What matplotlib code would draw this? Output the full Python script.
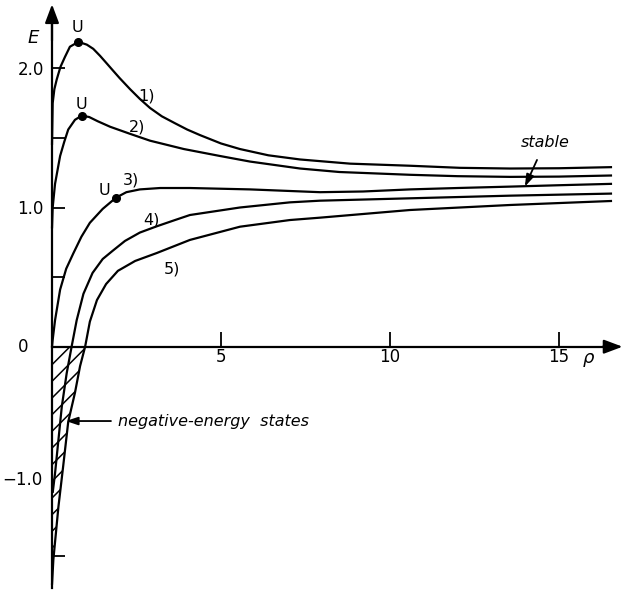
import numpy as np
import matplotlib
matplotlib.use("Agg")
import matplotlib.pyplot as plt

# curves: rho (x) and E (y)
rho1 = [0.0, 0.02, 0.07, 0.14, 0.25, 0.38, 0.53, 0.78, 1.03, 1.22, 1.42, 1.62, 1.80, 2.0,
        2.31, 2.6, 2.9, 3.25, 3.64, 4.0, 4.38, 5.0, 5.56, 6.4, 7.34, 8.82, 10.59, 12.07,
        13.55, 15.0, 16.57]
E1 = [1.45, 1.75, 1.85, 1.92, 2.01, 2.08, 2.155, 2.19, 2.17, 2.14, 2.09, 2.035, 1.985, 1.93,
      1.85, 1.78, 1.715, 1.655, 1.605, 1.56, 1.52, 1.46, 1.42, 1.375, 1.345, 1.315, 1.30,
      1.285, 1.28, 1.282, 1.29]

rho2 = [0.0, 0.02, 0.09, 0.24, 0.36, 0.48, 0.68, 0.88, 1.1, 1.35, 1.72, 2.3, 2.9, 3.9,
        4.97, 5.86, 7.34, 8.5, 10.59, 12.0, 13.55, 15.0, 16.57]
E2 = [0.85, 1.0, 1.17, 1.37, 1.47, 1.56, 1.63, 1.66, 1.65, 1.62, 1.58, 1.53, 1.48, 1.42,
      1.37, 1.33, 1.28, 1.255, 1.235, 1.225, 1.22, 1.222, 1.23]

rho3 = [0.0, 0.02, 0.09, 0.24, 0.42, 0.63, 0.87, 1.12, 1.5, 1.89, 2.2, 2.6, 3.2, 4.08,
        5.86, 7.93, 9.2, 10.59, 12.0, 13.55, 15.0, 16.57]
E3 = [0.0, 0.05, 0.19, 0.41, 0.56, 0.67, 0.79, 0.89, 0.99, 1.07, 1.11, 1.13, 1.14, 1.14,
      1.13, 1.11, 1.115, 1.13, 1.14, 1.15, 1.16, 1.17]

rho4 = [0.02, 0.09, 0.19, 0.29, 0.435, 0.58, 0.73, 0.93, 1.2, 1.5, 1.8, 2.16, 2.6, 3.1,
        3.64, 4.08, 5.56, 7.04, 7.93, 10.59, 13.55, 16.57]
E4 = [-1.05, -0.91, -0.67, -0.43, -0.19, 0.0, 0.19, 0.38, 0.53, 0.63, 0.69, 0.76, 0.82,
      0.865, 0.91, 0.946, 1.0, 1.037, 1.049, 1.066, 1.085, 1.10]

rho5 = [0.0, 0.04, 0.19, 0.33, 0.48, 0.68, 0.83, 0.98, 1.12, 1.33, 1.6, 1.95, 2.46, 3.1,
        4.08, 5.56, 7.04, 7.93, 10.59, 13.55, 16.57]
E5 = [-1.71, -1.53, -1.15, -0.86, -0.54, -0.33, -0.14, 0.0, 0.18, 0.335, 0.45, 0.545,
      0.616, 0.673, 0.767, 0.862, 0.91, 0.927, 0.982, 1.018, 1.047]

# unstable points U
u_rho = [0.78, 0.88, 1.89]
u_E = [2.19, 1.66, 1.07]

xticks = [5, 10, 15]
yticks = [-1.5, 0.5, 1.0, 1.5, 2.0]
ytick_labels = ['', '', '1.0', '', '2.0']

# pixel frame of the original drawing
x0px, xs = 52.0, 33.8
y0px, ys = 346.7, 139.2
W, H = 623, 594

plt.rcParams['hatch.linewidth'] = 1.1

fig = plt.figure(figsize=(W / 100, H / 100), dpi=100)
ax = fig.add_axes([0, 0, 1, 1])
ax.set_xlim(-x0px / xs, (W - x0px) / xs)
ax.set_ylim((y0px - H) / ys, y0px / ys)

lw = 1.6
for r, e in [(rho1, E1), (rho2, E2), (rho3, E3), (rho4, E4), (rho5, E5)]:
    ax.plot(r, e, color='black', lw=lw, solid_capstyle='butt')

# hatched region of negative-energy states
neg = [i for i, e in enumerate(E5) if e <= 0]
ax.fill_betweenx([E5[i] for i in neg], 0, [rho5[i] for i in neg],
                 facecolor='none', edgecolor='black', hatch='//', linewidth=0)

ax.plot(u_rho, u_E, 'o', color='black', ms=5.5)

# axes through the origin
for s in ['top', 'right']:
    ax.spines[s].set_visible(False)
ax.spines['left'].set_position(('data', 0))
ax.spines['bottom'].set_position(('data', 0))
ax.spines['left'].set_bounds(-1.73, 2.35)
ax.spines['bottom'].set_bounds(0, 16.6)
ax.spines['left'].set_linewidth(1.6)
ax.spines['bottom'].set_linewidth(1.6)

arrow = dict(arrowstyle='-|>,head_length=0.8,head_width=0.3', color='black', lw=1.6,
             mutation_scale=14, shrinkA=0, shrinkB=0)
ax.annotate('', xy=(0, 2.46), xytext=(0, 2.2), arrowprops=arrow)
ax.annotate('', xy=(16.88, 0), xytext=(16.3, 0), arrowprops=arrow)

ax.set_xticks(xticks)
ax.set_xticklabels([str(t) for t in xticks])
ax.set_yticks(yticks)
ax.set_yticklabels(ytick_labels)
ax.tick_params(axis='x', direction='in', length=10.5, width=1.3, labelsize=12, pad=1)
ax.tick_params(axis='y', direction='in', length=9.5, width=1.3, labelsize=12, pad=6)

ax.text(-0.84, 0.0, '0', fontsize=12, ha='center', va='center')
ax.text(-0.27, -0.96, '\u22121.0', fontsize=12, ha='right', va='center')
ax.text(-0.55, 2.22, 'E', fontsize=13, style='italic', ha='center', va='center')
ax.text(15.86, -0.08, '\u03c1', fontsize=13, style='italic', ha='center', va='center')

# curve labels
for lab, x, y in [('1)', 2.80, 1.80), ('2)', 2.51, 1.58), ('3)', 2.33, 1.20),
                  ('4)', 2.95, 0.91), ('5)', 3.54, 0.56)]:
    ax.text(x, y, lab, fontsize=11.5, ha='center', va='center')
for x, y in [(0.75, 2.29), (0.86, 1.74), (1.55, 1.12)]:
    ax.text(x, y, 'U', fontsize=11.5, ha='center', va='center')

ax.annotate('stable', xy=(13.99, 1.15), xytext=(14.59, 1.47), fontsize=11.5,
            style='italic', ha='center', va='center',
            arrowprops=dict(arrowstyle='-|>,head_length=0.6,head_width=0.2', color='black',
                            lw=1.3, shrinkA=6, shrinkB=0, mutation_scale=12))
ax.annotate('negative-energy  states', xy=(0.41, -0.534), xytext=(1.95, -0.534),
            fontsize=11.5, style='italic', ha='left', va='center',
            arrowprops=dict(arrowstyle='-|>,head_length=0.6,head_width=0.2', color='black',
                            lw=1.3, shrinkA=3, shrinkB=0, mutation_scale=12))

fig.savefig('out.png', dpi=100)
